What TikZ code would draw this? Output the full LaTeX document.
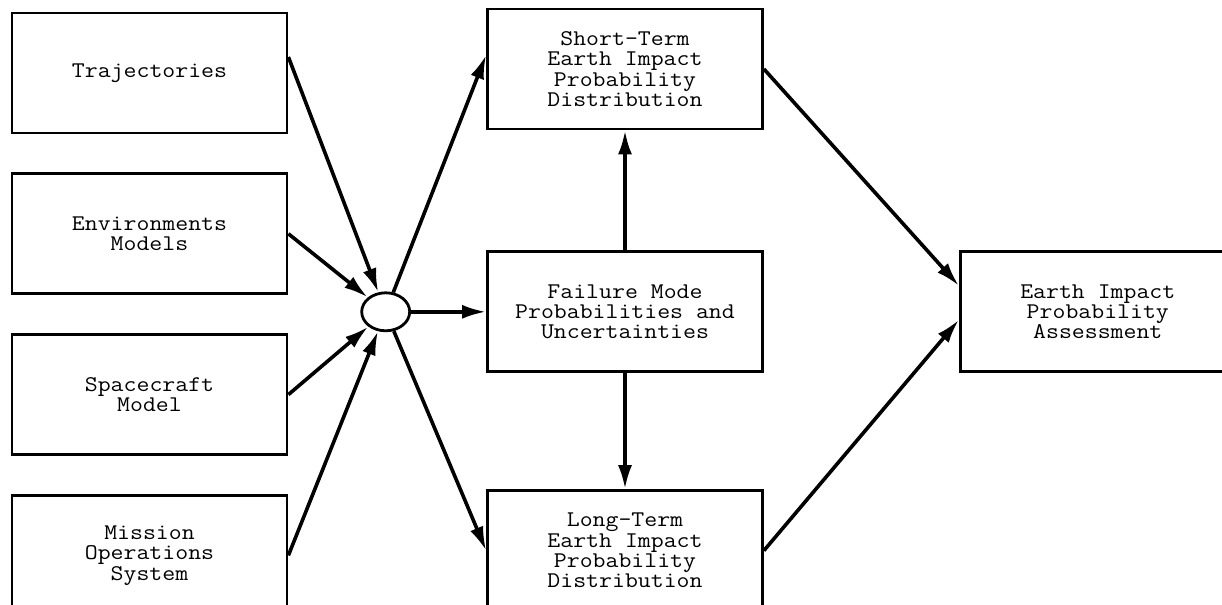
\documentclass[tikz,border=0pt]{standalone}
\usepackage{fontspec}
\setmonofont{Latin Modern Mono}[FakeStretch=1.12]
\usetikzlibrary{positioning,shapes.geometric,arrows.meta}

\begin{document}
\begin{tikzpicture}[x=0.5pt, y=-0.5pt, node distance=19pt, line width=1.8pt,
                    block/.style={rectangle,draw,line width=1.4pt,minimum width=137.5pt,minimum height=60pt,
                                  align=center,inner sep=2pt,font=\ttfamily\fontsize{11.2}{10.2}\selectfont},
                    hub node/.style={ellipse,draw,line width=1.4pt,minimum width=24pt,minimum height=19pt,inner sep=0pt},
                    flow/.style={-{Latex[length=12pt,width=7pt]}}]

  \useasboundingbox (0,0) rectangle (1222,605);
  \clip (0,0) rectangle (1222,605);

  \node[block] (traj) at (149.5,73) {Trajectories};
  \node[block] (env) [below=of traj] {Environments\\Models};
  \node[block] (craft) [below=of env] {Spacecraft\\Model};
  \node[block] (ops) [below=of craft] {Mission\\Operations\\System};

  \node[block] (short) at (625,69) {Short-Term\\Earth Impact\\Probability\\Distribution};
  \node[block] (fail) [below=60pt of short] {Failure Mode\\Probabilities and\\Uncertainties};
  \node[block] (long) [below=58pt of fail] {Long-Term\\Earth Impact\\Probability\\Distribution};
  \node[hub node] (hub) [left=37.5pt of fail] {};
  \node[block] (earth) [right=97.5pt of fail] {Earth Impact\\Probability\\Assessment};

  \path[flow]
    ([yshift=8pt]traj.east) edge (hub)
    (env.east) edge (hub)
    (craft.east) edge (hub)
    (ops.east) edge (hub)
    (hub) edge ([yshift=7pt]short.west)
    (hub) edge (fail)
    (hub) edge (long.west)
    (fail) edge (short)
    (fail) edge (long)
    (short.east) edge ([yshift=13pt]earth.west)
    (long.east) edge ([yshift=-4pt]earth.west);

\end{tikzpicture}
\end{document}
